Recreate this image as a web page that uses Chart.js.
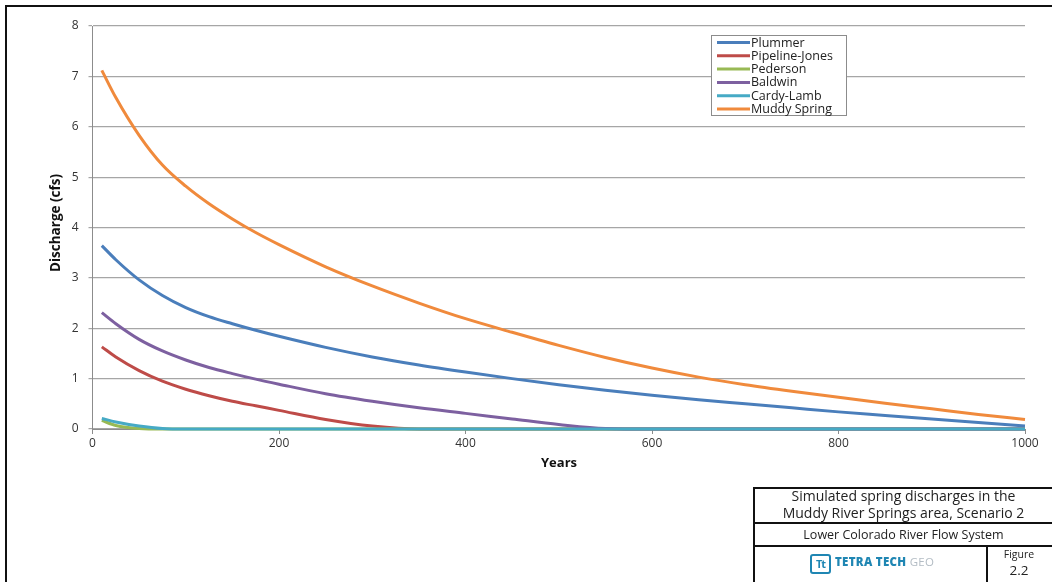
<!DOCTYPE html>
<html>
<head>
<meta charset="utf-8">
<script src="https://cdn.jsdelivr.net/npm/chart.js@4.4.1/dist/chart.umd.min.js"></script>
<style>
  html, body { margin: 0; padding: 0; background: #fff; }
  #wrap { position: relative; width: 1052px; height: 582px; overflow: hidden; font-family: "Open Sans", sans-serif; }
  #c { position: absolute; left: 0; top: 0; }
  .frame-l { position: absolute; left: 5px; top: 5px; width: 2px; height: 577px; background: #111; }
  .frame-t { position: absolute; left: 5px; top: 5px; width: 1047px; height: 2px; background: #111; }
  .tb-line { position: absolute; background: #111; }
  .tb-text { position: absolute; text-align: center; color: #222; white-space: nowrap; }
  .logo-icon { position: absolute; left: 810px; top: 554px; width: 17px; height: 16px; border: 2px solid #1f86b3; border-radius: 3px;
               font-weight: 700; font-size: 11px; line-height: 16px; text-align: center; color: #1f86b3; letter-spacing: -1px; }
  .logo-text { position: absolute; left: 835px; top: 554px; font-size: 11.5px; font-weight: 800; color: #1f86b3; letter-spacing: 0.3px; white-space: nowrap; }
  .logo-text span { color: #b3bcc4; font-weight: 400; }
</style>
</head>
<body>
<div id="wrap">
  <canvas id="c" width="1052" height="582"></canvas>
  <div class="frame-l"></div>
  <div class="frame-t"></div>

  <!-- title block -->
  <div class="tb-line" style="left:753px; top:487px; width:299px; height:2px;"></div>
  <div class="tb-line" style="left:753px; top:487px; width:2px; height:95px;"></div>
  <div class="tb-line" style="left:753px; top:522px; width:299px; height:1.5px;"></div>
  <div class="tb-line" style="left:753px; top:545px; width:299px; height:1.5px;"></div>
  <div class="tb-line" style="left:986px; top:545px; width:1.5px; height:37px;"></div>
  <div class="tb-text" style="left:755px; top:488px; width:297px; font-size:14px; line-height:16.5px;">Simulated spring discharges in the<br>Muddy River Springs area, Scenario 2</div>
  <div class="tb-text" style="left:755px; top:525px; width:297px; font-size:12.5px; line-height:19px;">Lower Colorado River Flow System</div>
  <div class="logo-icon">Tt</div>
  <div class="logo-text">TETRA TECH <span>GEO</span></div>
  <div class="tb-text" style="left:988px; top:548px; width:62px; font-size:10.5px; line-height:13px;">Figure</div>
  <div class="tb-text" style="left:988px; top:562px; width:62px; font-size:13.5px; line-height:16px;">2.2</div>
</div>

<script>
// Simulated discharge (cfs) by year for each spring
const years         = [10, 25, 50, 75, 100, 125, 150, 175, 200, 250, 300, 350, 400, 450, 500, 550, 600, 650, 700, 750, 800, 850, 900, 950, 1000];
const plummer       = [3.64, 3.36, 2.96, 2.65, 2.41, 2.23, 2.09, 1.96, 1.84, 1.62, 1.43, 1.27, 1.13, 1.00, 0.88, 0.77, 0.67, 0.58, 0.50, 0.42, 0.34, 0.27, 0.20, 0.13, 0.06];
const pipelineJones = [1.63, 1.43, 1.16, 0.95, 0.79, 0.66, 0.55, 0.46, 0.37, 0.19, 0.06, 0, 0, 0, 0, 0, 0, 0, 0, 0, 0, 0, 0, 0, 0];
const pederson      = [0.17, 0.07, 0.01, 0, 0, 0, 0, 0, 0, 0, 0, 0, 0, 0, 0, 0, 0, 0, 0, 0, 0, 0, 0, 0, 0];
const baldwin       = [2.31, 2.09, 1.78, 1.55, 1.37, 1.22, 1.10, 0.99, 0.89, 0.70, 0.55, 0.42, 0.31, 0.20, 0.09, 0.01, 0, 0, 0, 0, 0, 0, 0, 0, 0];
const cardyLamb     = [0.21, 0.14, 0.06, 0.01, 0, 0, 0, 0, 0, 0, 0, 0, 0, 0, 0, 0, 0, 0, 0, 0, 0, 0, 0, 0, 0];
const muddySpring   = [7.12, 6.58, 5.83, 5.24, 4.82, 4.47, 4.17, 3.90, 3.66, 3.22, 2.84, 2.50, 2.19, 1.92, 1.66, 1.42, 1.21, 1.03, 0.88, 0.75, 0.63, 0.51, 0.40, 0.29, 0.19];

const seriesNames  = ["Plummer", "Pipeline-Jones", "Pederson", "Baldwin", "Cardy-Lamb", "Muddy Spring"];
const seriesValues = [plummer, pipelineJones, pederson, baldwin, cardyLamb, muddySpring];
const seriesColors = ["#4a7ebb", "#be4b48", "#98b954", "#7d60a0", "#46aac5", "#f08a3c"];

const yTicks = [0, 1, 2, 3, 4, 5, 6, 7, 8];
const xTicks = [0, 200, 400, 600, 800, 1000];

// later series are painted over earlier ones
const datasets = seriesNames.map((name, i) => ({
  label: name,
  data: years.map((yr, k) => ({ x: yr, y: seriesValues[i][k] })),
  borderColor: seriesColors[i],
  backgroundColor: seriesColors[i],
  borderWidth: 3,
  pointRadius: 0,
  cubicInterpolationMode: "monotone",
  order: -i,
  clip: false
}));

const FONT = "'Open Sans', sans-serif";

// Legend box drawn inside the plot area, axis titles at fixed spots
const overlay = {
  id: "overlay",
  afterDraw(chart) {
    const ctx = chart.ctx;
    ctx.save();
    const bx = 711.5, by = 35.5, bw = 135, bh = 80;
    ctx.fillStyle = "#fff";
    ctx.fillRect(bx, by, bw, bh);
    ctx.strokeStyle = "#8c8c8c";
    ctx.lineWidth = 1;
    ctx.strokeRect(bx, by, bw, bh);
    ctx.font = "12.5px " + FONT;
    ctx.textBaseline = "middle";
    ctx.textAlign = "left";
    chart.data.datasets.forEach((ds, i) => {
      const y = 42.5 + i * 13.3;
      ctx.strokeStyle = ds.borderColor;
      ctx.lineWidth = 3;
      ctx.beginPath();
      ctx.moveTo(717, y);
      ctx.lineTo(750, y);
      ctx.stroke();
      ctx.fillStyle = "#222";
      ctx.fillText(ds.label, 751, y + 0.5);
    });
    ctx.fillStyle = "#111";
    ctx.font = "bold 13px " + FONT;
    ctx.textAlign = "center";
    ctx.fillText("Years", 559, 463);
    ctx.font = "bold 13.5px " + FONT;
    ctx.translate(56, 223);
    ctx.rotate(-Math.PI / 2);
    ctx.fillText("Discharge (cfs)", 0, 0);
    ctx.restore();
  }
};

new Chart(document.getElementById("c"), {
  type: "line",
  data: { datasets },
  options: {
    responsive: false,
    animation: false,
    devicePixelRatio: 1,
    layout: { padding: { left: 0, right: 27, top: 26, bottom: 0 } },
    plugins: { legend: { display: false }, tooltip: { enabled: false } },
    scales: {
      x: {
        type: "linear",
        min: 0, max: 1000,
        afterFit: s => { s.height = 153; },
        afterBuildTicks: s => { s.ticks = xTicks.map(v => ({ value: v })); },
        grid: { drawOnChartArea: false, drawTicks: true, tickLength: 5, color: "#8c8c8c" },
        border: { display: true, color: "#8c8c8c", width: 1 },
        ticks: { font: { family: FONT, size: 12 }, color: "#333", padding: 2, maxRotation: 0, callback: v => String(v) }
      },
      y: {
        min: 0, max: 8,
        afterFit: s => { s.width = 92.5; },
        afterBuildTicks: s => { s.ticks = yTicks.map(v => ({ value: v })); },
        grid: { color: "#a6a6a6", lineWidth: 1.2, tickLength: 4 },
        border: { display: true, color: "#8c8c8c", width: 1 },
        ticks: { font: { family: FONT, size: 12 }, color: "#333", padding: 10, callback: v => String(v) }
      }
    }
  },
  plugins: [overlay]
});
</script>
</body>
</html>
